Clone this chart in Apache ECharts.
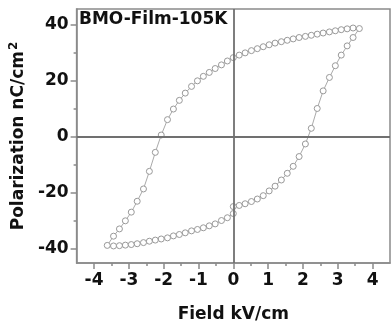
<!DOCTYPE html>
<html>
<head>
<meta charset="utf-8">
<script src="https://cdn.jsdelivr.net/npm/echarts@6/dist/echarts.min.js"></script>
<style>
  html, body { margin: 0; padding: 0; background: #fff; }
  #pe-chart { width: 391px; height: 328px; }
</style>
</head>
<body>
<div id="pe-chart"></div>
<script>
// loop in measuring order: 0 -> +Emax -> -Emax -> 0
const fieldData = [
  0, 0.17, 0.34, 0.52, 0.69, 0.86, 1.03, 1.20, 1.38, 1.55, 1.72, 1.89, 2.07, 2.24, 2.41, 2.58, 2.76, 2.93, 3.10, 3.27, 3.44, 3.62,
  3.44, 3.27, 3.10, 2.93, 2.76, 2.58, 2.41, 2.24, 2.07, 1.89, 1.72, 1.55, 1.38, 1.20, 1.03, 0.86, 0.69, 0.52, 0.34, 0.17, 0,
  -0.17, -0.34, -0.52, -0.69, -0.86, -1.03, -1.20, -1.38, -1.55, -1.72, -1.89, -2.07, -2.24, -2.41, -2.58, -2.76, -2.93, -3.10, -3.27, -3.44, -3.62,
  -3.44, -3.27, -3.10, -2.93, -2.76, -2.58, -2.41, -2.24, -2.07, -1.89, -1.72, -1.55, -1.38, -1.20, -1.03, -0.86, -0.69, -0.52, -0.34, -0.17, 0
]
const polData = [
  -25.0, -24.6, -24.0, -23.2, -22.3, -21.1, -19.4, -17.7, -15.5, -13.1, -10.6, -7.1, -2.6, 3.0, 10.1, 16.4, 21.2, 25.4, 29.2, 32.5, 35.5, 38.7,
  38.9, 38.6, 38.3, 37.9, 37.5, 37.1, 36.7, 36.3, 35.9, 35.5, 35.0, 34.5, 34.0, 33.5, 32.9, 32.2, 31.5, 30.8, 30.0, 29.2, 28.3,
  27.1, 25.7, 24.4, 23.0, 21.6, 20.0, 18.0, 15.6, 13.0, 9.9, 6.1, 0.6, -5.6, -12.4, -18.7, -23.1, -27.0, -30.1, -33.0, -35.6, -38.9,
  -39.1, -39.0, -38.8, -38.6, -38.3, -37.9, -37.4, -37.0, -36.6, -36.2, -35.5, -35.0, -34.4, -33.7, -33.2, -32.6, -31.9, -31.2, -30.0, -29.0, -27.5
]
const xMajorTicks = [-4, -3, -2, -1, 0, 1, 2, 3, 4]
const xMinorTicks = [-3.5, -2.5, -1.5, -0.5, 0.5, 1.5, 2.5, 3.5]
const yMajorTicks = [-40, -20, 0, 20, 40]
const yMinorTicks = [-30, -10, 10, 30]

const font = 'DejaVu Sans'
const frameColor = '#8a8a8a'

const chart = echarts.init(document.getElementById('pe-chart'))
const points = fieldData.map((e, i) => [e, polData[i]])

const option = {
  animation: false,
  title: {
    text: 'BMO-Film-105K',
    left: 79,
    top: 11,
    padding: 0,
    textStyle: { fontFamily: font, fontWeight: 'bold', fontSize: 17, color: '#111' }
  },
  grid: {
    left: 74,
    top: 9,
    width: 316,
    height: 256,
    show: true,
    borderColor: frameColor,
    borderWidth: 1.5,
    backgroundColor: '#fff'
  },
  xAxis: [
    {
      type: 'value',
      min: -4.5,
      max: 4.5,
      position: 'bottom',
      name: 'Field kV/cm',
      nameLocation: 'middle',
      nameGap: 43,
      nameTextStyle: { fontFamily: font, fontWeight: 'bold', fontSize: 17, color: '#111' },
      axisLine: { show: true, onZero: false, lineStyle: { color: frameColor, width: 1.5 } },
      axisTick: { show: true, length: 6, customValues: xMajorTicks, lineStyle: { color: frameColor, width: 1.5 } },
      axisLabel: {
        customValues: xMajorTicks,
        margin: 9,
        fontFamily: font,
        fontWeight: 'bold',
        fontSize: 17,
        color: '#111'
      },
      splitLine: { show: false }
    },
    {
      type: 'value',
      min: -4.5,
      max: 4.5,
      position: 'bottom',
      axisLine: { show: false, onZero: false },
      axisTick: { show: true, length: 3, customValues: xMinorTicks, lineStyle: { color: frameColor, width: 1.5 } },
      axisLabel: { show: false },
      splitLine: { show: false }
    }
  ],
  yAxis: [
    {
      type: 'value',
      min: -45.2,
      max: 45.7,
      position: 'left',
      name: '{a|Polarization nC/cm}{s|2}',
      nameLocation: 'middle',
      nameGap: 38,
      nameRotate: 90,
      nameTextStyle: {
        rich: {
          a: { fontFamily: font, fontWeight: 'bold', fontSize: 17, color: '#111' },
          s: { fontFamily: font, fontWeight: 'bold', fontSize: 12, color: '#111', verticalAlign: 'top', padding: [0, 0, 9, 1] }
        }
      },
      axisLine: { show: true, onZero: false, lineStyle: { color: frameColor, width: 1.5 } },
      axisTick: { show: true, length: 6, customValues: yMajorTicks, lineStyle: { color: frameColor, width: 1.5 } },
      axisLabel: {
        customValues: yMajorTicks,
        margin: 8,
        fontFamily: font,
        fontWeight: 'bold',
        fontSize: 17,
        color: '#111'
      },
      splitLine: { show: false }
    },
    {
      type: 'value',
      min: -45.2,
      max: 45.7,
      position: 'left',
      axisLine: { show: false, onZero: false },
      axisTick: { show: true, length: 3, customValues: yMinorTicks, lineStyle: { color: frameColor, width: 1.5 } },
      axisLabel: { show: false },
      splitLine: { show: false }
    }
  ],
  series: [
    {
      type: 'line',
      xAxisIndex: 0,
      yAxisIndex: 0,
      data: points,
      symbol: 'circle',
      symbolSize: 6,
      showSymbol: true,
      itemStyle: { color: '#fff', borderColor: '#999', borderWidth: 1 },
      lineStyle: { color: '#aaa', width: 1 },
      markLine: {
        silent: true,
        symbol: 'none',
        label: { show: false },
        lineStyle: { color: '#707070', width: 1.8, type: 'solid' },
        data: [{ xAxis: 0 }, { yAxis: 0 }]
      },
      z: 3
    }
  ]
}
chart.setOption(option)
</script>
</body>
</html>
